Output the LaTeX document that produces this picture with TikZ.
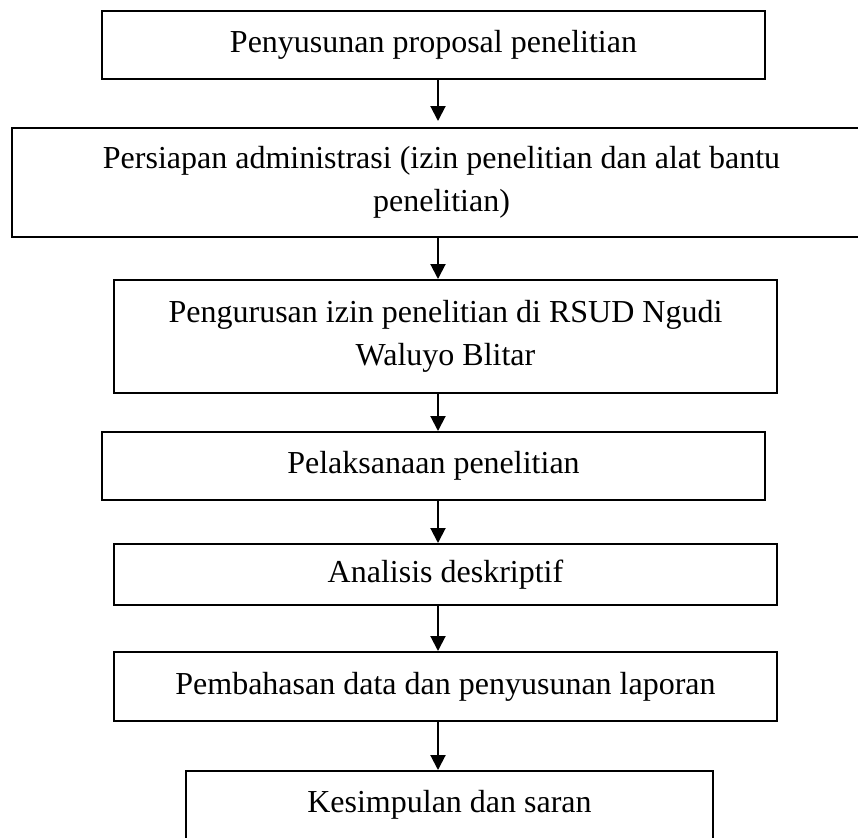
\documentclass[tikz,border=0pt]{standalone}
\usepackage{fontspec}
\setmainfont{Liberation Serif}
\usetikzlibrary{arrows.meta}

\begin{document}
\begin{tikzpicture}[x=0.5pt, y=-0.5pt,
  kotak/.style={draw, line width=1pt, inner sep=0pt, align=center,
    font=\fontsize{16}{21.5}\selectfont},
  panah/.style={line width=1pt, -{Triangle[width=7.5pt, length=7.5pt]}}]
  % batas gambar
  \useasboundingbox (0,0) rectangle (858,837);
  % sumbu panah
  \coordinate (ax) at (438,0);
  % kotak-kotak tahap
  \node[kotak, minimum width=331.5pt, minimum height=34pt] (usul) at (433.5,45)
    {Penyusunan proposal penelitian};
  \node[kotak, minimum width=429.5pt, minimum height=54.5pt] (admin) at (441.5,182.5)
    {Persiapan administrasi (izin penelitian dan alat bantu\\penelitian)};
  \node[kotak, minimum width=331.5pt, minimum height=56.5pt] (izin) at (445.5,336.5)
    {Pengurusan izin penelitian di RSUD Ngudi\\Waluyo Blitar};
  \node[kotak, minimum width=331.5pt, minimum height=34pt] (laksana) at (433.5,466)
    {Pelaksanaan penelitian};
  \node[kotak, minimum width=331.5pt, minimum height=30.5pt] (analisis) at (445.5,574.5)
    {Analisis deskriptif};
  \node[kotak, minimum width=331.5pt, minimum height=34.5pt] (bahas) at (445.5,686.5)
    {Pembahasan data dan penyusunan laporan};
  \node[kotak, minimum width=263.5pt, minimum height=34pt] (simpul) at (449.5,805)
    {Kesimpulan dan saran};
  % panah antar tahap
  \draw[panah, shorten >=3pt] (usul.south -| ax) -- (admin.north -| ax);
  \foreach \a/\b in {admin/izin, izin/laksana, laksana/analisis, analisis/bahas, bahas/simpul}
    \draw[panah] (\a.south -| ax) -- (\b.north -| ax);
\end{tikzpicture}
\end{document}
